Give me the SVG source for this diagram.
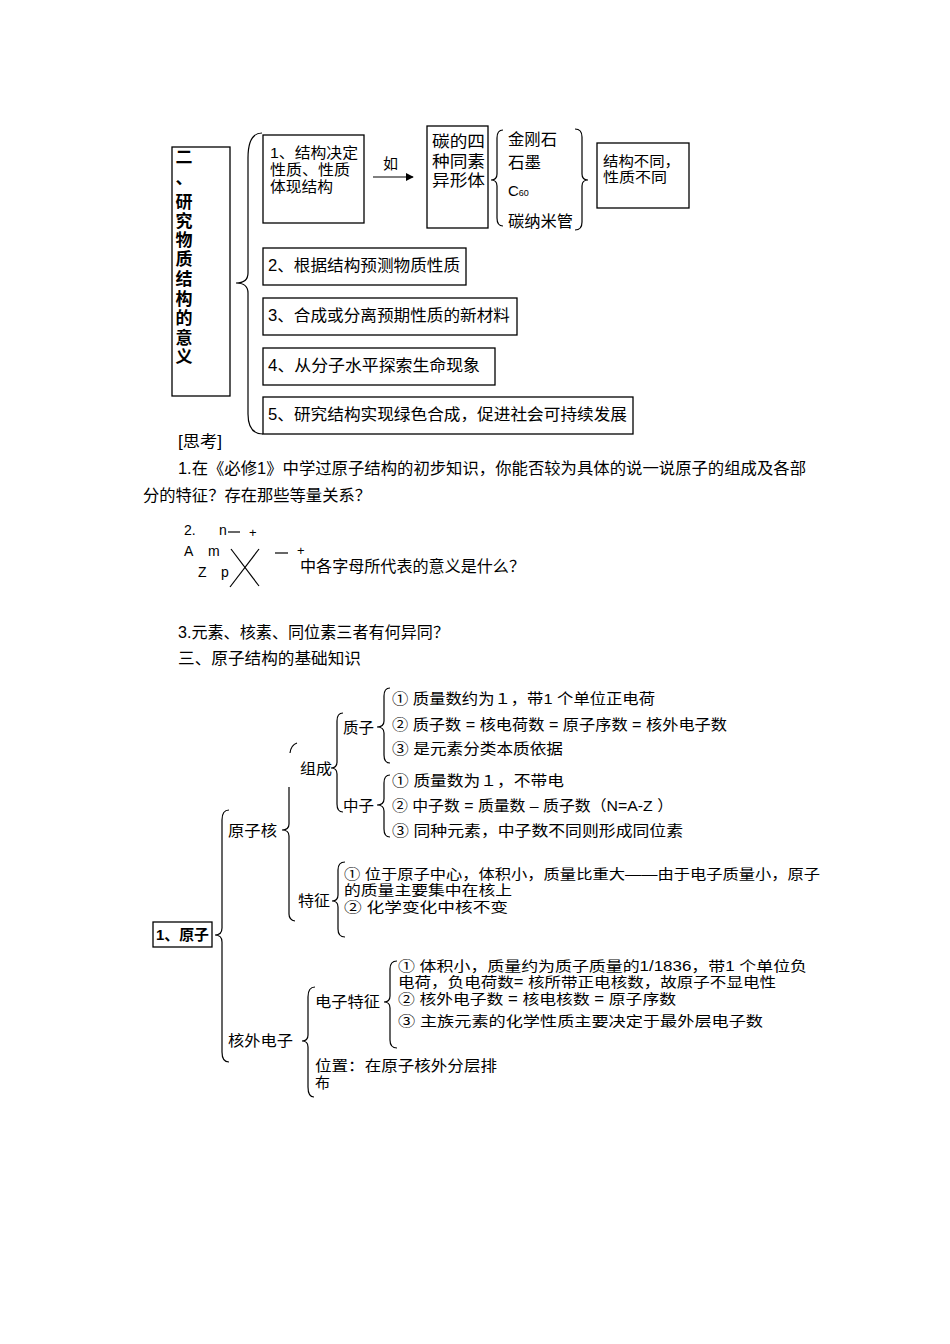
<svg xmlns="http://www.w3.org/2000/svg" width="950" height="1344" viewBox="0 0 950 1344">
<defs>
<style>
text{font-family:"Liberation Sans","Noto Sans CJK SC",sans-serif;fill:#000}
.t{font-size:16px}
.s{font-size:15px}
.m{font-size:14px}
.b{font-weight:bold}
.lat{font-family:"Liberation Sans","Noto Sans CJK SC",sans-serif;font-size:14px}
.tt{font-size:17px;font-weight:bold}
.box{fill:#fff;stroke:#000;stroke-width:1.3}
.br{fill:none;stroke:#000;stroke-width:1.2}
.ln{fill:none;stroke:#000;stroke-width:1.2}
</style>
<marker id="ah" viewBox="0 0 10 10" refX="9" refY="5" markerWidth="8" markerHeight="8" markerUnits="userSpaceOnUse" orient="auto">
<path d="M0,0 L10,5 L0,10 z" fill="#000"/>
</marker>
</defs>
<rect width="950" height="1344" fill="#fff"/>

<g id="connectors">
<path class="br" d="M262,133 Q248,133 248,158 L248,273 Q248,283 236,283 Q248,283 248,293 L248,414 Q248,434 263,434"/>
<line class="ln" x1="373" y1="177" x2="413" y2="177" marker-end="url(#ah)"/>
<path class="br" d="M503,130 Q497,130 497,138 L497,174 Q497,180 491,180 Q497,180 497,186 L497,218 Q497,226 503,226"/>
<path class="br" d="M575,129 Q582,129 582,137 L582,174 Q582,180 588,180 Q582,180 582,186 L582,222 Q582,230 575,230"/>
<line class="ln" x1="228" y1="532" x2="240" y2="532"/>
<line class="ln" x1="231" y1="549" x2="259" y2="586"/>
<line class="ln" x1="259" y1="549" x2="230" y2="587"/>
<line class="ln" x1="275" y1="553" x2="288" y2="553"/>
<path class="br" d="M229,810 Q222,810 222,820 L222,928 Q222,935 215,935 Q222,935 222,942 L222,1052 Q222,1062 229,1062"/>
<path class="br" d="M290,753 Q291,745 297,743"/>
<path class="br" d="M289,787 L289,824 Q289,830 282,830 Q289,830 289,836 L289,914 Q289,920 295,921"/>
<path class="br" d="M343,713 Q337,713 337,721 L337,762 Q337,768 331,768 Q337,768 337,774 L337,804 Q337,812 343,812"/>
<path class="br" d="M390,688 Q384,688 384,696 L384,721 Q384,727 377,727 Q384,727 384,733 L384,755 Q384,763 390,763"/>
<path class="br" d="M390,775 Q384,775 384,783 L384,799 Q384,805 377,805 Q384,805 384,811 L384,829 Q384,837 390,837"/>
<path class="br" d="M345,862 Q338,862 338,870 L338,895 Q338,901 332,901 Q338,901 338,907 L338,929 Q338,937 345,937"/>
<path class="br" d="M315,987 Q308,987 308,997 L308,1035 Q308,1041 302,1041 Q308,1041 308,1047 L308,1087 Q308,1097 314,1097"/>
<path class="br" d="M397,961 Q390,961 390,969 L390,996 Q390,1002 384,1002 Q390,1002 390,1008 L390,1040 Q390,1048 397,1048"/>
</g>

<g id="title2">
<rect class="box" x="172" y="147" width="58" height="249"/>
<g text-anchor="middle">
<text class="tt" x="184" y="163">二</text>
<text class="tt" x="184" y="184">、</text>
<text class="tt" x="184" y="208">研</text>
<text class="tt" x="184" y="227">究</text>
<text class="tt" x="184" y="246">物</text>
<text class="tt" x="184" y="265">质</text>
<text class="tt" x="184" y="285">结</text>
<text class="tt" x="184" y="305">构</text>
<text class="tt" x="184" y="324">的</text>
<text class="tt" x="184" y="344">意</text>
<text class="tt" x="184" y="363">义</text>
</g>
</g>

<g id="box1">
<rect class="box" x="263" y="135" width="101" height="88"/>
<text class="s" x="270" y="158" textLength="88" lengthAdjust="spacingAndGlyphs">1、结构决定</text>
<text class="s" x="270" y="175" textLength="80" lengthAdjust="spacingAndGlyphs">性质、性质</text>
<text class="s" x="270" y="192" textLength="63" lengthAdjust="spacingAndGlyphs">体现结构</text>
</g>
<g id="ru"><text class="s" x="383" y="169">如</text></g>

<g id="carbon">
<rect class="box" x="427" y="126" width="61" height="102"/>
<text class="t" x="432" y="147" textLength="53" lengthAdjust="spacingAndGlyphs">碳的四</text>
<text class="t" x="432" y="167" textLength="53" lengthAdjust="spacingAndGlyphs">种同素</text>
<text class="t" x="432" y="186" textLength="53" lengthAdjust="spacingAndGlyphs">异形体</text>
</g>
<g id="allotropes">
<text class="t" x="508" y="145" textLength="49" lengthAdjust="spacingAndGlyphs">金刚石</text>
<text class="t" x="508" y="168" textLength="33" lengthAdjust="spacingAndGlyphs">石墨</text>
<text x="508" y="196" style="font-size:15px">C<tspan style="font-size:9px">60</tspan></text>
<text class="t" x="508" y="227" textLength="65" lengthAdjust="spacingAndGlyphs">碳纳米管</text>
</g>
<g id="result">
<rect class="box" x="597" y="143" width="92" height="65"/>
<text class="m" x="603" y="166" textLength="77" lengthAdjust="spacingAndGlyphs">结构不同，</text>
<text class="m" x="603" y="182" textLength="64" lengthAdjust="spacingAndGlyphs">性质不同</text>
</g>
<g id="box2">
<rect class="box" x="263" y="248" width="203" height="37"/>
<text class="t" x="268" y="271" textLength="192" lengthAdjust="spacingAndGlyphs">2、根据结构预测物质性质</text>
</g>
<g id="box3">
<rect class="box" x="263" y="298" width="254" height="37"/>
<text class="t" x="268" y="321" textLength="242" lengthAdjust="spacingAndGlyphs">3、合成或分离预期性质的新材料</text>
</g>
<g id="box4">
<rect class="box" x="263" y="348" width="232" height="37"/>
<text class="t" x="268" y="371" textLength="212" lengthAdjust="spacingAndGlyphs">4、从分子水平探索生命现象</text>
</g>
<g id="box5">
<rect class="box" x="263" y="397" width="370" height="37"/>
<text class="t" x="268" y="420" textLength="359" lengthAdjust="spacingAndGlyphs">5、研究结构实现绿色合成，促进社会可持续发展</text>
</g>

<g id="questions">
<text class="t" x="178" y="447" textLength="44" lengthAdjust="spacingAndGlyphs">[思考]</text>
<text class="t" x="178" y="474" textLength="628" lengthAdjust="spacingAndGlyphs">1.在《必修1》中学过原子结构的初步知识，你能否较为具体的说一说原子的组成及各部</text>
<text class="t" x="143" y="501" textLength="228" lengthAdjust="spacingAndGlyphs">分的特征？存在那些等量关系？</text>
<text class="lat" x="184" y="535">2.</text>
<text class="lat" x="219" y="535">n</text>
<text class="lat" x="249" y="537" style="font-size:13px">+</text>
<text class="lat" x="184" y="556">A</text>
<text class="lat" x="208" y="556">m</text>
<text class="lat" x="198" y="577">Z</text>
<text class="lat" x="221" y="577">p</text>
<text class="lat" x="297" y="555" style="font-size:13px">+</text>
<text class="t" x="300" y="572" textLength="225" lengthAdjust="spacingAndGlyphs">中各字母所代表的意义是什么？</text>
<text class="t" x="178" y="638" textLength="271" lengthAdjust="spacingAndGlyphs">3.元素、核素、同位素三者有何异同？</text>
<text class="t" x="178" y="664" textLength="183" lengthAdjust="spacingAndGlyphs">三、原子结构的基础知识</text>
</g>

<g id="atom">
<rect class="box" x="153" y="922" width="59" height="25"/>
<text class="s b" x="156" y="940" textLength="53" lengthAdjust="spacingAndGlyphs">1、原子</text>
</g>
<g id="nucleus"><text class="s" x="228" y="836" textLength="49" lengthAdjust="spacingAndGlyphs">原子核</text></g>
<g id="composition"><text class="s" x="300" y="774" textLength="32" lengthAdjust="spacingAndGlyphs">组成</text></g>
<g id="proton">
<text class="s" x="343" y="733" textLength="31" lengthAdjust="spacingAndGlyphs">质子</text>
<text class="s" x="392" y="704" textLength="263" lengthAdjust="spacingAndGlyphs">① 质量数约为１，带1 个单位正电荷</text>
<text class="s" x="392" y="730" textLength="335" lengthAdjust="spacingAndGlyphs">② 质子数 = 核电荷数 = 原子序数 = 核外电子数</text>
<text class="s" x="392" y="754" textLength="171" lengthAdjust="spacingAndGlyphs">③ 是元素分类本质依据</text>
</g>
<g id="neutron">
<text class="s" x="343" y="811" textLength="31" lengthAdjust="spacingAndGlyphs">中子</text>
<text class="s" x="392" y="786" textLength="172" lengthAdjust="spacingAndGlyphs">① 质量数为１，不带电</text>
<text class="s" x="392" y="811" textLength="281" lengthAdjust="spacingAndGlyphs">② 中子数 = 质量数 – 质子数（N=A-Z ）</text>
<text class="s" x="392" y="836" textLength="291" lengthAdjust="spacingAndGlyphs">③ 同种元素，中子数不同则形成同位素</text>
</g>
<g id="feature">
<text class="s" x="298" y="906" textLength="32" lengthAdjust="spacingAndGlyphs">特征</text>
<text class="m" x="344" y="879" textLength="476" lengthAdjust="spacingAndGlyphs">①  位于原子中心，体积小，质量比重大——由于电子质量小，原子</text>
<text class="m" x="344" y="895" textLength="168" lengthAdjust="spacingAndGlyphs">的质量主要集中在核上</text>
<text class="m" x="344" y="912" textLength="164" lengthAdjust="spacingAndGlyphs">②  化学变化中核不变</text>
</g>
<g id="electron">
<text class="s" x="228" y="1046" textLength="65" lengthAdjust="spacingAndGlyphs">核外电子</text>
</g>
<g id="electron-feature">
<text class="s" x="315" y="1007" textLength="65" lengthAdjust="spacingAndGlyphs">电子特征</text>
<text class="m" x="398" y="971" textLength="409" lengthAdjust="spacingAndGlyphs">①  体积小，质量约为质子质量的1/1836，带1 个单位负</text>
<text class="m" x="398" y="987" textLength="378" lengthAdjust="spacingAndGlyphs">电荷，负电荷数= 核所带正电核数，故原子不显电性</text>
<text class="m" x="398" y="1004" textLength="278" lengthAdjust="spacingAndGlyphs">②  核外电子数 = 核电核数 = 原子序数</text>
<text class="m" x="398" y="1026" textLength="365" lengthAdjust="spacingAndGlyphs">③  主族元素的化学性质主要决定于最外层电子数</text>
</g>
<g id="position">
<text class="s" x="315" y="1071" textLength="182" lengthAdjust="spacingAndGlyphs">位置：在原子核外分层排</text>
<text class="s" x="315" y="1088">布</text>
</g>
</svg>
